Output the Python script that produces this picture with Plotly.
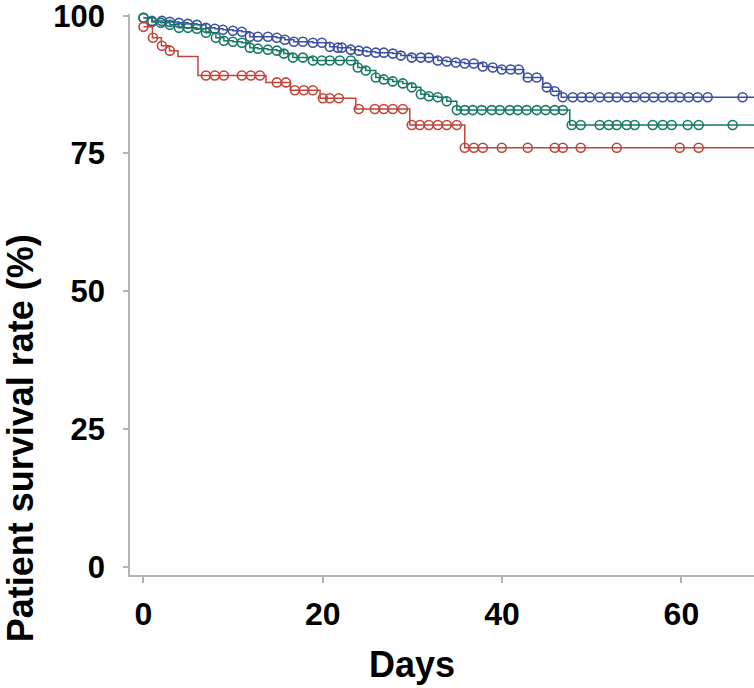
import numpy as np
import plotly.graph_objects as go

# ---- data (days, survival %) ----
blue_step_t = [0, 0.95, 2.95, 3.96, 4.96, 5.96, 6.97, 7.97, 8.86, 9.98, 10.98, 11.87, 14.88, 15.77,
               16.78, 18.9, 20.79, 21.68, 23.13, 24.02, 24.91, 25.92, 27.81, 28.71, 29.93, 32.83,
               33.83, 34.84, 35.84, 37.85, 38.96, 39.97, 42.42, 44.54, 45.6, 46.6]
blue_step_s = [99.6, 99.05, 98.87, 98.69, 98.51, 98.33, 97.79, 97.61, 97.43, 97.25, 97.07, 96.17, 95.99, 95.63,
               95.27, 95.09, 94.37, 94.19, 93.83, 93.65, 93.47, 93.29, 93.11, 92.75, 92.39, 91.85,
               91.67, 91.49, 91.31, 90.77, 90.59, 90.23, 88.79, 86.99, 86.28, 85.2]
blue_censor_t = [0, 0.95, 2.06, 2.95, 3.96, 4.96, 5.96, 6.97, 7.97, 8.86, 9.98, 10.98, 11.87, 12.76, 13.88,
                 14.88, 15.77, 16.78, 17.78, 18.9, 19.9, 20.79, 21.68, 22.13, 23.13, 24.02, 24.91, 25.92,
                 26.81, 27.81, 28.71, 29.93, 30.94, 31.83, 32.83, 33.83, 34.84, 35.84, 36.85, 37.85,
                 38.96, 39.97, 40.97, 41.86, 42.86, 43.87, 44.98, 45.88, 46.77, 47.88, 48.89, 49.78,
                 50.89, 51.89, 52.79, 53.9, 54.79, 55.91, 56.91, 57.92, 58.92, 59.81, 60.82, 61.82,
                 62.93, 66.83]

green_step_t = [0, 0.95, 1.95, 2.95, 3.96, 5.96, 6.97, 8.08, 8.97, 9.98, 10.98, 11.87, 12.76, 13.88,
                14.88, 15.66, 16.67, 18.9, 23.91, 24.8, 25.92, 26.81, 27.81, 28.93, 29.93, 30.94,
                31.83, 32.83, 33.83, 34.95, 47.55]
green_step_s = [99.6, 98.87, 98.69, 98.33, 97.79, 97.61, 96.89, 95.99, 95.45, 95.27, 95.09, 94.19, 94.01, 93.83,
                93.65, 93.11, 92.39, 91.85, 90.59, 90.05, 88.79, 88.43, 88.07, 87.71, 86.99, 85.74,
                85.38, 85.2, 84.48, 82.86, 80.16]
green_censor_t = [0, 0.95, 1.95, 2.95, 3.96, 4.96, 5.96, 6.97, 8.08, 8.97, 9.98, 10.98, 11.87, 12.76,
                  13.88, 14.88, 15.66, 16.67, 17.78, 18.9, 19.9, 20.79, 21.9, 23.13, 23.91, 24.8, 25.92,
                  26.81, 27.81, 28.93, 29.93, 30.94, 31.83, 32.83, 33.83, 34.95, 35.84, 36.73, 37.74,
                  38.85, 39.74, 40.86, 41.75, 42.75, 43.87, 44.87, 45.88, 46.77, 47.77, 48.77, 50.89,
                  51.89, 52.79, 53.9, 54.79, 56.8, 57.92, 58.92, 60.7, 61.93, 65.72]

red_step_t = [0, 1.0, 2.0, 2.9, 3.85, 6.08, 13.66, 16.4, 19.7, 23.69, 29.71, 35.84]
red_step_s = [97.97, 96.0, 94.55, 93.65, 92.57, 89.15, 87.89, 86.46, 85.02, 83.05, 80.16, 76.02]
red_censor_t = [0, 1.06, 2.06, 2.95, 6.97, 7.97, 8.97, 10.98, 11.98, 12.99, 14.88, 15.89, 16.89, 17.89,
                18.9, 20.01, 20.79, 21.79, 24.02, 25.8, 26.81, 27.81, 28.93, 29.93, 30.82, 31.83, 32.83,
                33.83, 34.95, 35.84, 36.85, 37.85, 39.97, 42.86, 45.88, 46.77, 48.77, 52.79, 59.81, 61.93]

x_ticks = [0, 20, 40, 60]
y_ticks = [0, 25, 50, 75, 100]
x_end = 68.1

series = [
    ("blue", blue_step_t, blue_step_s, blue_censor_t, "#3d4fa2"),
    ("green", green_step_t, green_step_s, green_censor_t, "#147a64"),
    ("red", red_step_t, red_step_s, red_censor_t, "#c0443a"),
]

fig = go.Figure()
for name, st, ss, ct, col in series:
    st_a = np.array(st)
    ss_a = np.array(ss)
    lx = list(st) + [x_end]
    ly = list(ss) + [ss[-1]]
    fig.add_trace(go.Scatter(x=lx, y=ly, mode="lines", line=dict(color=col, width=1.5, shape="hv"),
                             showlegend=False, hoverinfo="skip", cliponaxis=False))
    idx = np.searchsorted(st_a, np.array(ct), side="right") - 1
    cy = ss_a[idx]
    fig.add_trace(go.Scatter(x=ct, y=cy, mode="markers",
                             marker=dict(symbol="circle-open", size=9, color=col, line=dict(width=1.6, color=col)),
                             showlegend=False, cliponaxis=False))

axis_col = "#b4b4b4"
font_fam = "Liberation Sans, Arial, sans-serif"
fig.update_layout(
    width=754, height=688,
    margin=dict(l=130, r=0, t=14, b=113),
    paper_bgcolor="white", plot_bgcolor="white",
    xaxis=dict(range=[-1.5, x_end], tickvals=x_ticks, showgrid=False, zeroline=False,
               showline=True, linecolor=axis_col, linewidth=1.5,
               ticks="outside", ticklen=6, tickwidth=1.5, tickcolor=axis_col,
               tickfont=dict(family=font_fam, size=32, color="black", weight="bold"),
               ticklabelstandoff=4, ticklabeloverflow="allow", automargin=False),
    yaxis=dict(range=[-1.5, 100.3], tickvals=y_ticks, showgrid=False, zeroline=False,
               showline=True, linecolor=axis_col, linewidth=1.5,
               ticks="outside", ticklen=5, tickwidth=1.5, tickcolor=axis_col,
               tickfont=dict(family=font_fam, size=31, color="black", weight="bold"),
               ticklabelstandoff=12, ticklabeloverflow="allow", automargin=False),
    annotations=[
        dict(text="Days", xref="paper", yref="paper", x=0.452, y=-0.160, showarrow=False,
             xanchor="center", yanchor="middle",
             font=dict(family=font_fam, size=36, color="black", weight="bold")),
        dict(text="Patient survival rate (%)", xref="paper", yref="paper", x=-0.176, y=0.244,
             showarrow=False, textangle=-90, xanchor="center", yanchor="middle",
             font=dict(family=font_fam, size=36, color="black", weight="bold")),
    ],
)

fig.write_html("out.html", config={"displayModeBar": False},
               post_script="document.body.style.margin='0';document.body.style.overflow='hidden';")
